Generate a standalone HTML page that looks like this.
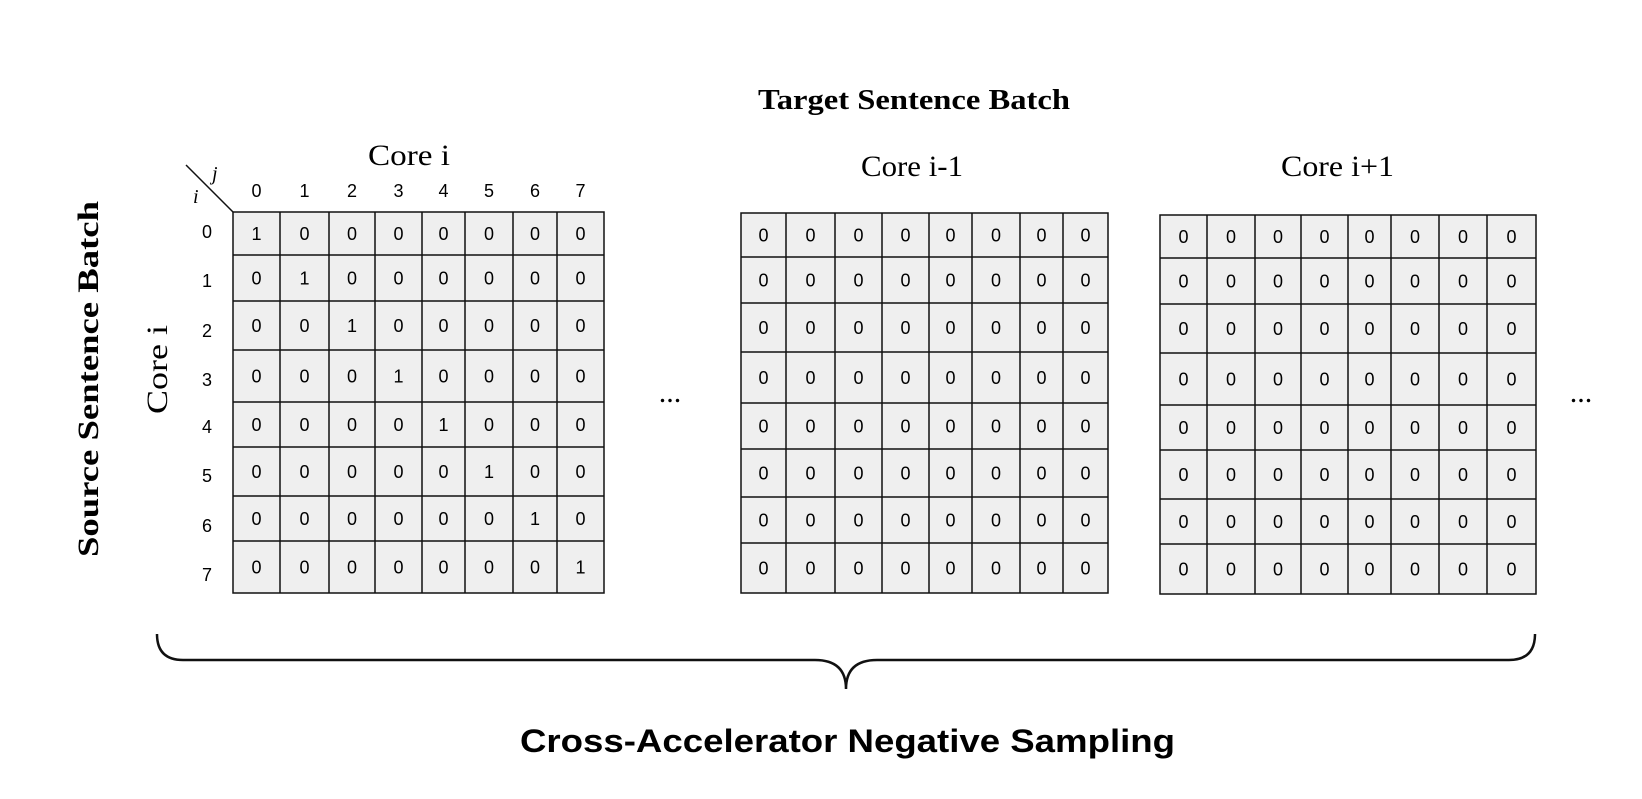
<!DOCTYPE html>
<html><head><meta charset="utf-8"><style>html,body{margin:0;padding:0;background:#fff}svg{display:block}</style></head>
<body>
<svg width="1642" height="799" viewBox="0 0 1642 799" xmlns="http://www.w3.org/2000/svg">
<g fill="#efefef" stroke="none">
<rect x="233" y="212" width="371" height="381"/>
<rect x="741" y="213" width="367" height="380"/>
<rect x="1160" y="215" width="376" height="379"/>
</g>
<g stroke="#111" stroke-width="1.5" fill="none">
<rect x="233" y="212" width="371" height="381"/>
<path d="M280 212V593M329 212V593M375 212V593M422 212V593M465 212V593M513 212V593M557 212V593M233 255H604M233 301H604M233 350H604M233 402H604M233 447H604M233 496H604M233 541H604"/>
<rect x="741" y="213" width="367" height="380"/>
<path d="M786 213V593M835 213V593M882 213V593M929 213V593M972 213V593M1020 213V593M1063 213V593M741 257H1108M741 303H1108M741 352H1108M741 403H1108M741 449H1108M741 497H1108M741 543H1108"/>
<rect x="1160" y="215" width="376" height="379"/>
<path d="M1207 215V594M1255 215V594M1301 215V594M1348 215V594M1391 215V594M1439 215V594M1487 215V594M1160 258H1536M1160 304H1536M1160 353H1536M1160 405H1536M1160 450H1536M1160 499H1536M1160 544H1536"/>
<path d="M186 165L233 212"/>
<path d="M157 634Q157 660 183 660H815Q846 660 846 689Q846 660 877 660H1509Q1535 660 1535 634" stroke-width="2.5"/>
</g>
<g font-family="Liberation Sans, Arial, sans-serif" font-size="18" fill="#000" text-anchor="middle">
<text x="256.5 304.5 352 398.5 443.5 489 535 580.5" y="197">01234567</text>
<text x="207" y="238">0</text><text x="207" y="287">1</text><text x="207" y="337">2</text><text x="207" y="386">3</text><text x="207" y="433">4</text><text x="207" y="482">5</text><text x="207" y="532">6</text><text x="207" y="581">7</text>
<text x="256.5 304.5 352 398.5 443.5 489 535 580.5" y="240">10000000</text>
<text x="256.5 304.5 352 398.5 443.5 489 535 580.5" y="284.5">01000000</text>
<text x="256.5 304.5 352 398.5 443.5 489 535 580.5" y="332">00100000</text>
<text x="256.5 304.5 352 398.5 443.5 489 535 580.5" y="382.5">00010000</text>
<text x="256.5 304.5 352 398.5 443.5 489 535 580.5" y="431">00001000</text>
<text x="256.5 304.5 352 398.5 443.5 489 535 580.5" y="478">00000100</text>
<text x="256.5 304.5 352 398.5 443.5 489 535 580.5" y="525">00000010</text>
<text x="256.5 304.5 352 398.5 443.5 489 535 580.5" y="573.5">00000001</text>
<text x="763.5 810.5 858.5 905.5 950.5 996 1041.5 1085.5" y="241.5">00000000</text>
<text x="763.5 810.5 858.5 905.5 950.5 996 1041.5 1085.5" y="286.5">00000000</text>
<text x="763.5 810.5 858.5 905.5 950.5 996 1041.5 1085.5" y="334">00000000</text>
<text x="763.5 810.5 858.5 905.5 950.5 996 1041.5 1085.5" y="384">00000000</text>
<text x="763.5 810.5 858.5 905.5 950.5 996 1041.5 1085.5" y="432.5">00000000</text>
<text x="763.5 810.5 858.5 905.5 950.5 996 1041.5 1085.5" y="479.5">00000000</text>
<text x="763.5 810.5 858.5 905.5 950.5 996 1041.5 1085.5" y="526.5">00000000</text>
<text x="763.5 810.5 858.5 905.5 950.5 996 1041.5 1085.5" y="574.5">00000000</text>
<text x="1183.5 1231 1278 1324.5 1369.5 1415 1463 1511.5" y="243">00000000</text>
<text x="1183.5 1231 1278 1324.5 1369.5 1415 1463 1511.5" y="287.5">00000000</text>
<text x="1183.5 1231 1278 1324.5 1369.5 1415 1463 1511.5" y="335">00000000</text>
<text x="1183.5 1231 1278 1324.5 1369.5 1415 1463 1511.5" y="385.5">00000000</text>
<text x="1183.5 1231 1278 1324.5 1369.5 1415 1463 1511.5" y="434">00000000</text>
<text x="1183.5 1231 1278 1324.5 1369.5 1415 1463 1511.5" y="481">00000000</text>
<text x="1183.5 1231 1278 1324.5 1369.5 1415 1463 1511.5" y="528">00000000</text>
<text x="1183.5 1231 1278 1324.5 1369.5 1415 1463 1511.5" y="575.5">00000000</text>
</g>
<g font-family="Liberation Serif, Times New Roman, serif" fill="#000">
<text x="758" y="109" font-size="28" font-weight="bold" textLength="312" lengthAdjust="spacingAndGlyphs">Target Sentence Batch</text>
<text x="368" y="165" font-size="30" textLength="82" lengthAdjust="spacingAndGlyphs">Core i</text>
<text x="861" y="176" font-size="30" textLength="102" lengthAdjust="spacingAndGlyphs">Core i-1</text>
<text x="1281" y="176" font-size="30" textLength="113" lengthAdjust="spacingAndGlyphs">Core i+1</text>
<text transform="translate(98,557) rotate(-90)" font-size="30" font-weight="bold" textLength="356" lengthAdjust="spacingAndGlyphs">Source Sentence Batch</text>
<text transform="translate(167,414) rotate(-90)" font-size="30" textLength="89" lengthAdjust="spacingAndGlyphs">Core i</text>
<text x="212" y="180" font-size="20" font-style="italic">j</text>
<text x="193" y="203" font-size="20" font-style="italic">i</text>
<text x="670" y="402" font-size="30" text-anchor="middle">...</text>
<text x="1581" y="402" font-size="30" text-anchor="middle">...</text>
</g>
<text x="520" y="752" font-family="Liberation Sans, Arial, sans-serif" font-size="32" font-weight="bold" textLength="655" lengthAdjust="spacingAndGlyphs">Cross-Accelerator Negative Sampling</text>
</svg>
</body></html>
